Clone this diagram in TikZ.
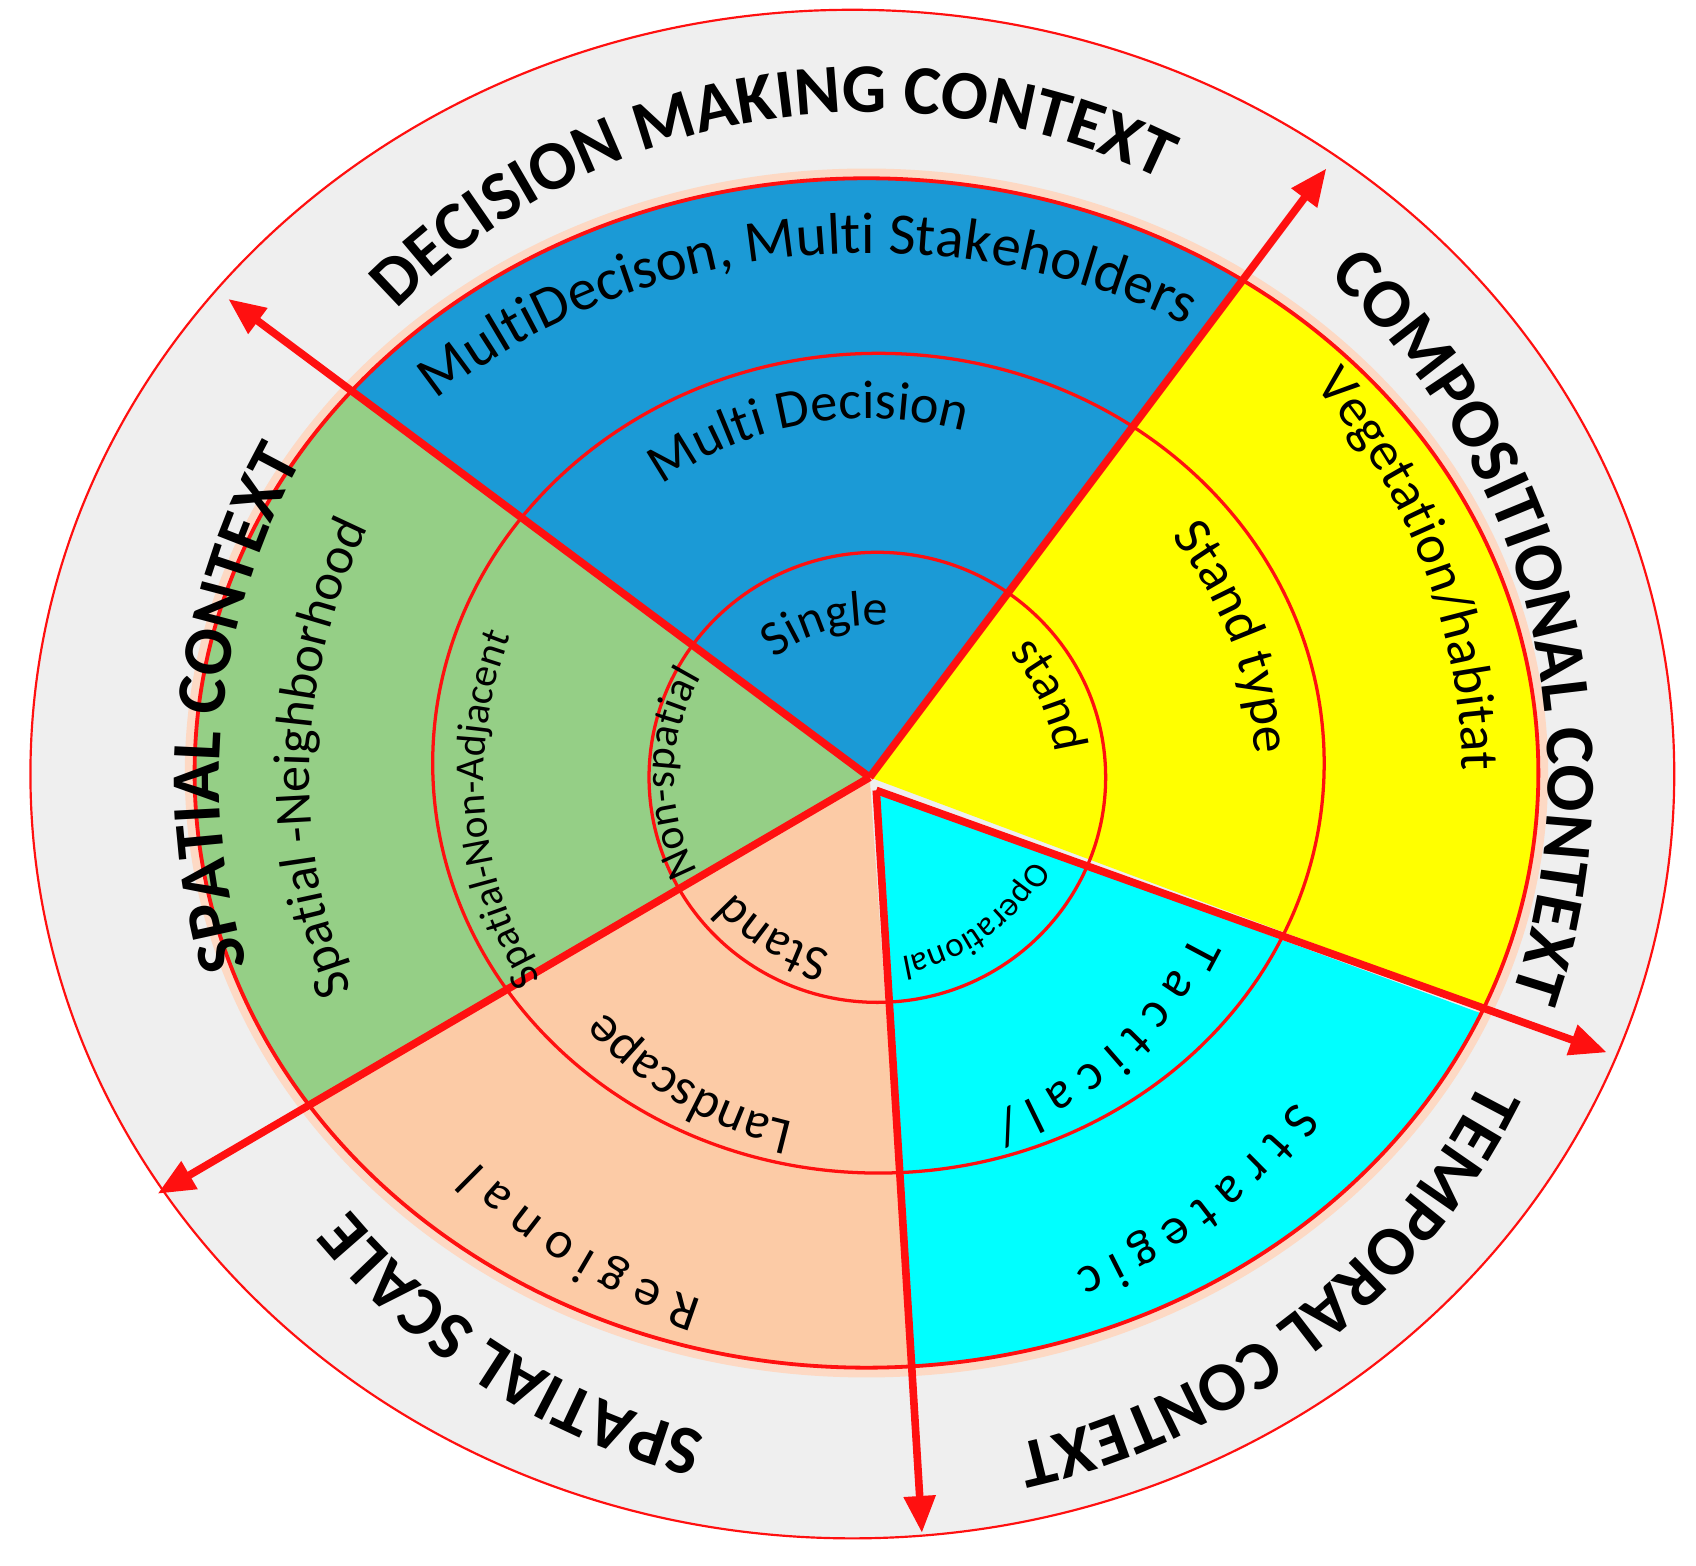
\documentclass[tikz,border=0pt]{standalone}
\usepackage{fontspec}
\setmainfont{Carlito}
\usetikzlibrary{decorations.text,arrows.meta}
\definecolor{ringred}{HTML}{FF1010}
\definecolor{cblue}{HTML}{1B9AD6}
\definecolor{cyell}{HTML}{FFFF00}
\definecolor{ccyan}{HTML}{00FFFF}
\definecolor{cgreen}{HTML}{95CF86}
\definecolor{csalm}{HTML}{FCCBA6}
\definecolor{cgray}{HTML}{EFEFEF}
\definecolor{glow}{HTML}{FDD9C4}
\newcommand\arclabel[5]{%
  \path[decorate,decoration={text along path,text align=center,
    text={|#4\fontsize{#3}{#3}\selectfont|#5}}]
    ({#2+85}:#1) arc[start angle={#2+85},end angle={#2-85},radius=#1];}
\newcommand\sector[5]{% apex, a1, mid, a2, color
  \begin{scope}
  \clip (#1) -- (#2:2000) -- (#3:2000) -- (#4:2000) -- cycle;
  \fill[#5] (-3,4) ellipse[x radius=618,y radius=547];
  \end{scope}}
\begin{document}
\begin{tikzpicture}[x=1pt,y=1pt,
  spoke/.style={ringred,line width=7,-{Triangle[length=34,width=28]}},
  ring/.style={ringred,line width=3}]
\useasboundingbox (-800,-725) rectangle (760,715);
\fill[white] (-800,-725) rectangle (760,715);
\coordinate (hub) at (0,0);
\coordinate (hub2) at (6,-12);
\draw[ringred,line width=2,fill=cgray] (-16,3) ellipse[x radius=756,y radius=703];
\draw[glow,line width=14] (-3,4) ellipse[x radius=620,y radius=549];
% sectors
\sector{hub}{143.3}{98}{53.1}{cblue}
\sector{hub}{53.1}{16}{-20.5}{cyell}
\sector{hub2}{-20.5}{-53}{-86}{ccyan}
\sector{hub}{-86}{-118}{-149.7}{csalm}
\sector{hub}{210.3}{177}{143.3}{cgreen}
\draw[ringred,line width=3.5] (-3,4) ellipse[x radius=618,y radius=547];
\draw[ring] (8,13) ellipse[x radius=410,y radius=377];
\draw[ring] (7,0) ellipse[x radius=210,y radius=207];
% spokes
\coordinate (tUL) at (-590,440);
\coordinate (tUR) at (420,560);
\coordinate (tLR) at (678,-253);
\coordinate (tB) at (48,-695);
\coordinate (tLL) at (-655,-383);
\draw[spoke] (hub) -- (tUL);
\draw[spoke] (hub) -- (tUR);
\draw[spoke] (hub2) -- (tLR);
\draw[spoke] (hub2) -- (tB);
\draw[spoke] (hub) -- (tLL);
% outer labels
\arclabel{612}{99.6}{64}{\bfseries}{DECISION MAKING CONTEXT}
\arclabel{598}{173.8}{64}{\bfseries}{SPATIAL CONTEXT}
\arclabel{624}{14.4}{64}{\bfseries}{COMPOSITIONAL CONTEXT}
\arclabel{628}{-52}{64}{\bfseries}{TEMPORAL CONTEXT}
\arclabel{622}{237.8}{64}{\bfseries}{SPATIAL SCALE}
% inner labels
\path[decorate,decoration={text along path,text align=center,
    text={|\fontsize{54}{54}\selectfont|MultiDecison, Multi Stakeholders}}]
    (182.6:575 and 482) arc[start angle=182.6,end angle=12.6,x radius=575,y radius=482];
\arclabel{330}{100}{50}{}{Multi Decision}
\arclabel{140}{106}{46}{}{Single}
\arclabel{545}{21}{50}{}{Vegetation/habitat}
\arclabel{355}{21}{50}{}{Stand type}
\arclabel{172}{24.5}{46}{}{stand}
\arclabel{515}{178}{48}{}{Spatial -Neighborhood}
\arclabel{355}{185}{38}{}{Spatial-Non-Adjacent}
\arclabel{180}{179}{40}{}{Non-spatial}
\arclabel{164}{238.7}{46}{}{Stand}
\arclabel{325}{239.5}{48}{}{Landscape}
\arclabel{505}{238.4}{48}{}{R e g i o n a l}
\arclabel{168}{-53.5}{32}{}{Operational}
\arclabel{330}{-48}{48}{}{T a c t i c a l /}
\arclabel{492}{-52.4}{48}{}{S t r a t e g i c}
\end{tikzpicture}
\end{document}
